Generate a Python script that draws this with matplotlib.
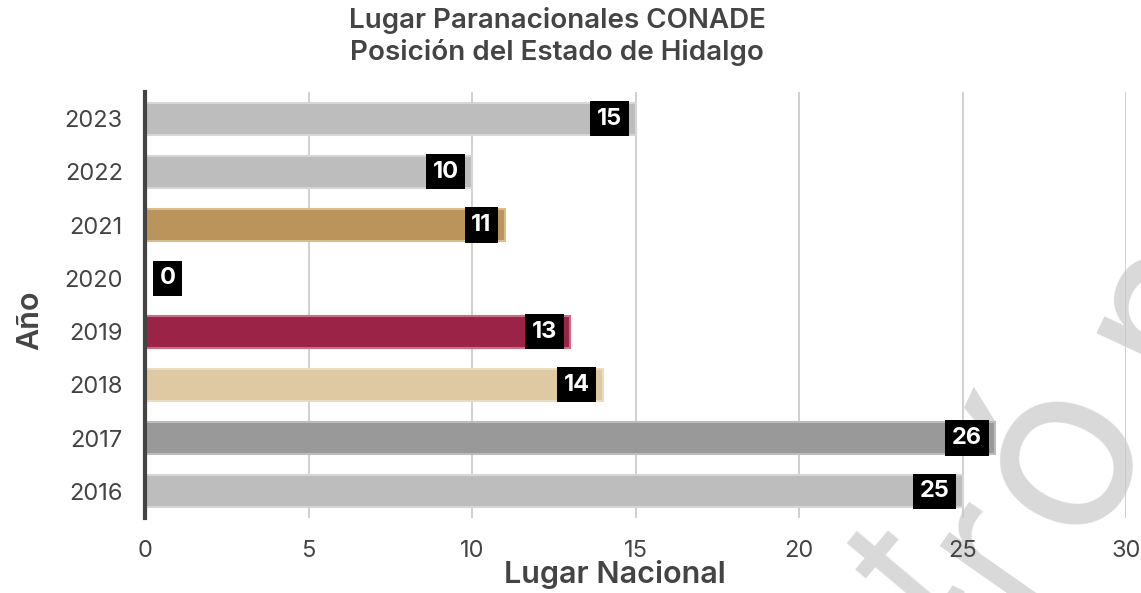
import matplotlib
matplotlib.use("Agg")
import matplotlib.pyplot as plt

years = ["2016", "2017", "2018", "2019", "2020", "2021", "2022", "2023"]
places = [25, 26, 14, 13, 0, 11, 10, 15]
colors = ["#bdbdbd", "#999999", "#dfc9a3", "#9b2348", "#bdbdbd", "#bb945b", "#bdbdbd", "#bdbdbd"]
edge_colors = ["#d6d6d6", "#bcbcbc", "#eadcc0", "#c57088", "#d6d6d6", "#d8bd8f", "#d6d6d6", "#d6d6d6"]
xticks = [0, 5, 10, 15, 20, 25, 30]

plt.rcParams['font.family'] = ['Inter', 'DejaVu Sans']
TXT = "#444444"
W, H = 1141, 593

fig = plt.figure(figsize=(11.41, 5.93), dpi=100)

# watermark letters behind the plot
wm_chars = ["t", "r", "ó", "n"]
wm_pos = [(912, 580), (992, 548), (1062, 452), (1165, 300)]
wm_rot = [50, 55, 65, 65]
wm_size = [130, 140, 170, 160]
for ch, (px, py), r, fs in zip(wm_chars, wm_pos, wm_rot, wm_size):
    fig.text(px / W, 1 - py / H, ch, rotation=r, rotation_mode="anchor",
             ha="center", va="center", fontsize=fs, color="#d9d9d9", zorder=0)

ax = fig.add_axes([0.1271, 0.1265, 0.8598, 0.7184])
ax.set_facecolor("none")
ax.set_zorder(1)

ypos = list(range(len(years)))
ax.barh(ypos, places, height=0.6, color=colors, edgecolor=edge_colors, linewidth=1.5, zorder=2)

for y, v in zip(ypos, places):
    if v > 0:
        ax.annotate(str(v), xy=(v, y), xytext=(-9.5, 0), textcoords="offset points",
                    ha="right", va="center", color="white", fontsize=17, fontweight="bold",
                    bbox=dict(boxstyle="square,pad=0.28", fc="black", ec="none"), zorder=4)
    else:
        ax.annotate(str(v), xy=(v, y), xytext=(10.5, 0), textcoords="offset points",
                    ha="left", va="center", color="white", fontsize=17, fontweight="bold",
                    bbox=dict(boxstyle="square,pad=0.28", fc="black", ec="none"), zorder=4)

ax.set_xlim(0, 30)
ax.set_ylim(-0.5, 7.5)
ax.set_yticks(ypos)
ax.set_yticklabels(years)
ax.set_xticks(xticks)
ax.set_xticklabels([str(t) for t in xticks])
ax.tick_params(axis="both", length=0, labelsize=17, labelcolor=TXT)
ax.tick_params(axis="x", pad=16)
ax.tick_params(axis="y", pad=16)
ax.grid(axis="x", color="#c8c8c8", linewidth=1.2, zorder=0)
ax.set_axisbelow(True)
for s in ["top", "right", "bottom"]:
    ax.spines[s].set_visible(False)
ax.spines["left"].set_color("#444444")
ax.spines["left"].set_linewidth(3)
ax.spines["left"].set_zorder(5)

ax.set_xlabel("Lugar Nacional", fontsize=22, fontweight="semibold", color=TXT)
ax.xaxis.set_label_coords((615 - 145) / 981, (518 - 575) / 426)
ax.xaxis.label.set_va("center")
ax.set_ylabel("Año", fontsize=22, fontweight="semibold", color=TXT)
ax.yaxis.set_label_coords((30 - 145) / 981, (518 - 320) / 426)
ax.yaxis.label.set_va("center")

fig.text(557 / W, 1 - 20 / H, "Lugar Paranacionales CONADE",
         ha="center", va="center", fontsize=20, fontweight="semibold", color=TXT)
fig.text(557 / W, 1 - 52 / H, "Posición del Estado de Hidalgo",
         ha="center", va="center", fontsize=20, fontweight="semibold", color=TXT)

fig.savefig("out.png", dpi=100)
